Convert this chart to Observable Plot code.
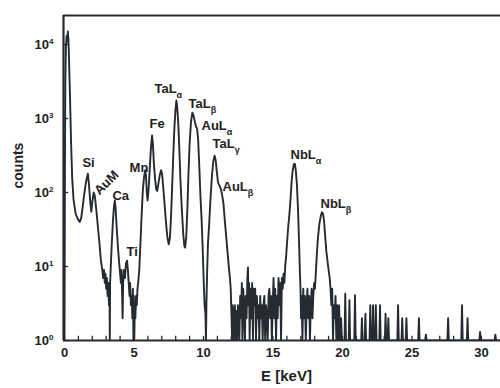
<!DOCTYPE html>
<html><head><meta charset="utf-8">
<script src="https://cdn.jsdelivr.net/npm/d3@7"></script>
<script src="https://cdn.jsdelivr.net/npm/@observablehq/plot@0.6"></script>
<style>body{margin:0;background:#fff}#chart{width:500px;height:388px}</style>
</head><body><div id="chart"></div>
<script>
// spectrum points: [energy keV, counts]
const spectrum = [
[0,1],[0.03,200],[0.06,3000],[0.1,9000],[0.15,13000],[0.2,11000],[0.24,15000],[0.28,12000],[0.33,6000],[0.4,1800],[0.47,500],[0.55,160],[0.65,80],[0.8,52],[0.95,44],[1.1,40],[1.2,45],[1.3,62],[1.42,95],[1.55,140],[1.68,180],[1.76,130],[1.85,75],[1.93,55],[2.0,75],[2.1,100],[2.18,90],[2.28,60],[2.4,35],[2.52,20],[2.62,12],[2.72,9],
[2.78,7],[2.84,9],[2.9,6],[2.95,8],[3.0,5],[3.05,7],[3.1,4],[3.15,6],[3.2,3],[3.24,5],[3.26,1],[3.28,6],[3.33,10],[3.4,20],[3.48,40],[3.56,65],[3.62,78],[3.68,60],[3.75,35],[3.83,20],[3.92,12],[4.0,8],[4.06,6],[4.1,9],[4.15,4],[4.18,2],[4.22,6],[4.28,9],[4.35,7],[4.42,11],[4.5,12],[4.56,9],[4.62,6],[4.68,4],[4.72,6],[4.78,3],[4.84,4],[4.88,2],[4.92,5],[4.96,1],[4.99,4],[5.02,1],[5.06,3],[5.1,2],[5.15,4],[5.2,3],[5.25,5],[5.3,6],[5.38,9],[5.46,20],[5.55,50],[5.64,110],[5.72,160],[5.8,200],[5.86,170],[5.92,100],[5.98,78],[6.05,110],[6.14,220],[6.22,400],[6.3,590],[6.36,450],[6.43,250],[6.52,150],[6.6,110],[6.67,105],[6.75,130],[6.85,170],[6.95,200],[7.02,180],[7.1,120],[7.2,70],[7.3,40],[7.4,25],[7.5,20],[7.58,24],[7.66,45],[7.74,110],[7.82,300],[7.9,700],[7.98,1300],[8.05,1750],[8.1,1500],[8.18,900],[8.26,400],[8.34,150],[8.44,60],[8.54,28],[8.62,19],[8.68,18],[8.76,25],[8.84,60],[8.92,180],[9.0,450],[9.1,900],[9.2,1200],[9.28,1100],[9.38,900],[9.46,780],[9.54,730],[9.62,500],[9.7,220],[9.78,90],[9.86,45],[9.94,18],[10.02,6],[10.08,3],[10.14,2.3],[10.18,1],[10.21,3],[10.26,8],[10.32,20],[10.4,35],[10.5,80],[10.6,160],[10.7,260],[10.8,315],[10.88,270],[10.96,190],[11.04,140],[11.1,130],[11.18,120],[11.26,110],[11.36,88],[11.44,70],[11.52,45],[11.6,30],[11.7,18],[11.8,11],[11.9,7],[11.96,5],[12.02,2],[12.06,1],
[12.1,3],[12.15,1],[12.2,2],[12.26,3],[12.3,1],[12.36,2.5],[12.42,1],[12.48,3],[12.52,2],[12.58,1],[12.64,4],[12.7,2],[12.76,6],[12.8,1],[12.86,5],[12.92,3],[12.98,1],[13.04,4],[13.1,2],[13.16,7],[13.2,9.7],[13.24,3],[13.28,6],[13.32,1],[13.38,5],[13.44,2],[13.5,6],[13.56,1],[13.6,5],[13.66,3],[13.72,5],[13.78,1],[13.84,4],[13.9,2],[13.96,3],[14.02,1],[14.08,4],[14.14,2],[14.2,3],[14.26,1],[14.32,3],[14.38,4],[14.44,1],[14.5,3],[14.56,2],[14.62,1],[14.68,4],[14.74,5],[14.8,2],[14.86,4],[14.92,1],[14.98,3],[15.04,7],[15.1,2],[15.16,5],[15.22,1],[15.28,4],[15.34,2],[15.4,7],[15.46,3],[15.52,6],[15.58,1],[15.64,7],[15.7,5],[15.76,8],[15.82,6],[15.88,10],[15.95,14],[16.02,22],[16.1,35],[16.18,50],[16.26,80],[16.34,140],[16.42,200],[16.5,240],[16.57,245],[16.64,200],[16.72,130],[16.8,60],[16.88,20],[16.94,8],[16.98,5],
[17.02,2],[17.06,4],[17.12,1],[17.18,5],[17.24,2],[17.3,4],[17.36,1],[17.42,3],[17.48,5],[17.54,2],[17.6,4],[17.66,1],[17.72,3],[17.78,5],[17.84,2],[17.9,4],[17.96,6],[18.02,5],[18.08,8],[18.16,15],[18.24,25],[18.34,38],[18.44,48],[18.52,54],[18.6,52],[18.68,40],[18.76,25],[18.84,16],[18.92,12],[19.0,9],[19.08,7],[19.14,5],[19.2,3],[19.26,5],[19.32,1],[19.38,3],[19.44,2],[19.5,4],[19.56,1],[19.62,3],[19.7,1],[19.76,3],[19.82,1],[19.9,2],[19.96,1],
[20.15,1],[20.2,4.3],[20.25,1],[20.45,1],[20.5,3.5],[20.55,1],[20.85,1],[20.9,4.1],[20.95,1],[21.35,1],[21.4,2],[21.45,1],[21.6,1],[21.65,2.3],[21.7,1],[21.95,1],[22.0,3],[22.05,1],[22.15,1],[22.2,3],[22.25,1],[22.35,1],[22.4,3],[22.45,1],[22.65,1],[22.7,3],[22.75,1],[23.05,1],[23.1,2.3],[23.15,1],[23.25,1],[23.3,2],[23.35,1],[23.95,1],[24.0,3],[24.05,1],[24.25,1],[24.3,2],[24.35,1],[24.55,1],[24.6,2],[24.65,1],[25.45,1],[25.5,2],[25.55,1],[25.95,1],[26.0,1.2],[26.05,1],[27.55,1],[27.6,2],[27.65,1],[28.55,1],[28.6,3],[28.65,1],[28.95,1],[29.0,2],[29.05,1],[29.85,1],[29.9,1.3],[29.95,1],[30.95,1],[31.0,1.2],[31.05,1],[31.4,1]
];

const xTickLabels = [0, 5, 10, 15, 20, 25, 30];
const xMinorTicks = [0,1,2,3,4,5,6,7,8,9,10,11,12,13,14,15,16,17,18,19,20,21,22,23,24,25,26,27,28,29,30,31];
const yTickExponents = [0, 1, 2, 3, 4];

const peakNames = ["Si", "Ca", "Ti", "Mn", "Fe", "TaL_α", "TaL_β", "AuL_α", "TaL_γ", "AuL_β", "NbL_α", "NbL_β"];
const peakLabelE = [1.29, 3.45, 4.46, 4.68, 6.12, 6.47, 8.92, 9.86, 10.65, 11.37, 16.26, 18.42];
const peakLabelCounts = [254, 91, 15.9, 218, 855, 2540, 1590, 804, 458, 120, 326, 71];
const slantedNames = ["AuM"];
const slantedE = [3.02];
const slantedCounts = [136];

const xDomain = [-0.072, 31.37];
const yDomain = [1, 24660];
const ink = "#262a31";

const labels = peakNames.map((t, i) => ({t, e: peakLabelE[i], c: peakLabelCounts[i]}));
const slanted = slantedNames.map((t, i) => ({t, e: slantedE[i], c: slantedCounts[i]}));

const chart = Plot.plot({
  width: 500, height: 388,
  marginLeft: 63, marginRight: 0, marginTop: 15, marginBottom: 48,
  style: {fontFamily: "'Liberation Sans', Arial, sans-serif", fontWeight: "bold", fontSize: "13px", color: "#222", background: "#fff"},
  x: {domain: xDomain},
  y: {type: "log", domain: yDomain},
  marks: [
    Plot.line(spectrum, {x: d => d[0], y: d => d[1], stroke: ink, strokeWidth: 1.9, clip: true}),
    Plot.ruleX(xMinorTicks, {x: d => d, y1: 1, y2: 1.14, stroke: ink, strokeWidth: 1.3}),
    Plot.ruleY(yTickExponents, {y: d => Math.pow(10, d), x1: xDomain[0], x2: 0.3, stroke: ink, strokeWidth: 1.3}),
    Plot.ruleY([yDomain[1]], {stroke: ink, strokeWidth: 2.2}),
    Plot.ruleY([yDomain[0]], {stroke: ink, strokeWidth: 2.2}),
    Plot.ruleX([xDomain[0]], {stroke: ink, strokeWidth: 2.2}),
    Plot.axisX(xTickLabels, {tickSize: 0, tickPadding: 7, label: null, fontSize: 13, fontWeight: "bold"}),
    Plot.axisY(yTickExponents.map(d => Math.pow(10, d)), {tickSize: 0, tickPadding: 10, label: null, fontSize: 13, fontWeight: "bold",
      tickFormat: d => "10^" + Math.round(Math.log10(d))}),
    Plot.text(labels, {x: "e", y: "c", text: "t", textAnchor: "start", fontSize: 13, fontWeight: "bold", fill: "#222"}),
    Plot.text(slanted, {x: "e", y: "c", text: "t", rotate: -45, fontSize: 13, fontWeight: "bold", fill: "#222"}),
    Plot.text(["E [keV]"], {frameAnchor: "bottom", dx: 4.5, dy: 40, fontSize: 15, fontWeight: "bold", fill: "#222"}),
    Plot.text(["counts"], {frameAnchor: "left", dx: -45, dy: 10.5, rotate: -90, fontSize: 14, fontWeight: "bold", fill: "#222"})
  ]
});

// superscripts for tick labels, subscripts for line labels
chart.querySelectorAll("text").forEach(el => {
  const s = el.textContent;
  let parts = null, sup = false;
  if (s.includes("^")) { parts = s.split("^"); sup = true; }
  else if (s.includes("_")) { parts = s.split("_"); }
  if (!parts) return;
  el.textContent = parts[0];
  const ts = document.createElementNS("http://www.w3.org/2000/svg", "tspan");
  ts.textContent = parts[1];
  ts.setAttribute("font-size", sup ? "8" : "9");
  ts.setAttribute("dy", sup ? "-5" : "5");
  el.appendChild(ts);
});

document.getElementById("chart").appendChild(chart);
</script></body></html>
